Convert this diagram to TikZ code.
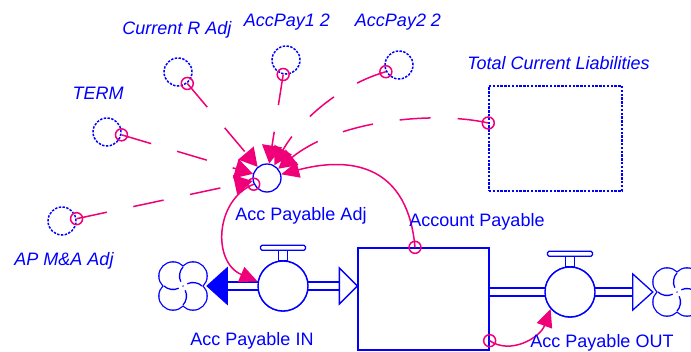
\documentclass[tikz,border=0pt]{standalone}
\usepackage{fontspec}
\setmainfont{Liberation Sans}
\usetikzlibrary{arrows.meta,calc}
\definecolor{vblue}{RGB}{0,0,255}
\definecolor{vpink}{RGB}{240,0,120}

\begin{document}
\begin{tikzpicture}[x=1pt,y=-1pt,
  lbl/.style={text=vblue, font=\fontsize{18}{20}\selectfont, inner sep=0pt, anchor=base},
  glbl/.style={lbl, font=\fontsize{18}{20}\selectfont\itshape},
  auxc/.style={circle, draw=vblue, line width=1.3pt, minimum size=28pt, inner sep=0pt},
  ghost/.style={auxc, line width=1.5pt, dash pattern=on 2.4pt off 1.4pt},
  valve/.style={circle, draw=vblue, fill=white, line width=1.4pt, minimum size=50pt, inner sep=0pt},
  pipe/.style={draw=vblue, line width=1.3pt, double=white, double distance=6.7pt},
  link/.style={draw=vpink, line width=1.5pt, -{Triangle[length=18pt,width=16pt]}},
  glink/.style={draw=vpink, line width=1.5pt, -{Triangle[length=18pt,width=20pt]}, dash pattern=on 31pt off 27pt},
  tailc/.style={circle, draw=vpink, line width=1.5pt, minimum size=12pt, inner sep=0pt},
  outline/.style={draw=vblue, line width=1.3pt},
  % cloud: outer outline of four lobes plus four inner swirl strokes
  vcloud/.pic={
    \begin{scope}[x=1pt,y=1pt]
      \foreach \dx/\dy in {-10/10, 10/10, 10/-10, -10/-10}
        \draw[vblue, line width=2.6pt] (\dx,\dy) circle[radius=13.5];
      \foreach \dx/\dy in {-10/10, 10/10, 10/-10, -10/-10}
        \fill[white] (\dx,\dy) circle[radius=13.5];
      \draw[outline] (10,10) ++(137.8:13.5) arc[start angle=137.8, end angle=205, radius=13.5];
      \draw[outline] (10,-10) ++(47.8:13.5) arc[start angle=47.8, end angle=115, radius=13.5];
      \draw[outline] (-10,-10) ++(-42.2:13.5) arc[start angle=-42.2, end angle=25, radius=13.5];
      \draw[outline] (-10,10) ++(-132.2:13.5) arc[start angle=-132.2, end angle=-65, radius=13.5];
    \end{scope}
  }
]
\useasboundingbox (0,0) rectangle (691,351);

% stock and flows
\node[outline, fill=white, rectangle, minimum width=131pt, minimum height=102pt, inner sep=0pt] (stock) at (423.5,299) {};
\node[minimum size=48pt, inner sep=0pt] (cloudin) at (183,286) {};
\node[minimum size=48pt, inner sep=0pt] (cloudout) at (677,292) {};
\node[valve] (vin) at (283,286) {};
\node[valve] (vout) at (570,292) {};

\draw[pipe] ($(cloudin.east)+(20,0)$) -- ($(stock.west|-vin)+(-18,0)$);
\draw[pipe] (stock.east|-vout) -- ($(cloudout.west)+(-20,0)$);

\node[valve] at (vin) {};
\node[valve] at (vout) {};
\foreach \v in {vin,vout}{
  \draw[outline, fill=white] ($(\v.north)+(-4.5,0.5)$) rectangle ($(\v.north)+(4.5,-10)$);
  \draw[outline, fill=white, rounded corners=1.5pt] ($(\v.north)+(-22.5,-10)$) rectangle ($(\v.north)+(22.5,-15)$);
}

% flow arrowheads
\draw[outline, fill=vblue, line join=miter] (cloudin.east) -- ++(20,-18) -- ++(0,36) -- cycle;
\draw[outline, fill=white, line join=miter] (stock.west|-vin) -- ++(-18,-18) -- ++(0,36) -- cycle;
\draw[outline, fill=white, line join=miter] (cloudout.west) -- ++(-20,-18) -- ++(0,36) -- cycle;

\pic at (cloudin) {vcloud};
\pic at (cloudout) {vcloud};

% auxiliaries and shadow variables
\node[auxc] (adj) at (267,178) {};
\node[ghost] (term) at (107,132) {};
\node[ghost] (crad) at (178,72) {};
\node[ghost] (ap1) at (286,60) {};
\node[ghost] (ap2) at (399,65) {};
\node[ghost] (apma) at (62,221) {};
\node[ghost, rectangle, minimum width=133pt, minimum height=105pt] (tcl) at (555.5,138.5) {};

\coordinate (stocktop) at ($(stock.north)+(-8.5,0)$);
\coordinate (stockbr) at ($(stock.south east)+(0,-10)$);

% links
\draw[glink] (term.-11) -- (adj);
\draw[glink] (crad.-51) -- (adj);
\draw[glink] (ap1.-101) -- (adj);
\draw[glink] (apma.9) -- (adj);
\draw[glink] (ap2.-153) .. controls (340,85) and (300,120) .. (adj);
\draw[glink] (tcl.167) .. controls (430,110) and (335,122) .. (adj);
\draw[link] (stocktop) .. controls (408,168) and (355,155) .. (adj);
\draw[link] (adj.205) .. controls (215,200) and (212,262) .. (vin.170);
\draw[link] (stockbr) .. controls (510,355) and (540,338) .. (vout.221);

% link tails
\node[tailc] (t1) at (term.-11) {};
\node[tailc] (t2) at (crad.-51) {};
\node[tailc] (t3) at (ap1.-101) {};
\node[tailc] (t4) at (ap2.-153) {};
\node[tailc] (t5) at (apma.9) {};
\node[tailc] (t6) at (tcl.167) {};
\node[tailc] (t7) at (stocktop) {};
\node[tailc] (t8) at (adj.205) {};
\node[tailc] (t9) at (stockbr) {};

% labels
\node[lbl] (ladj) at (301,220.7) {Acc Payable Adj};
\node[lbl] (lstock) at (477,226) {Account Payable};
\node[lbl] (lin) at (252,345) {Acc Payable IN};
\node[lbl] (lout) at (602,347) {Acc Payable OUT};
\node[glbl] (lcrad) at (177,34) {Current R Adj};
\node[glbl] (lap1) at (287,26.7) {AccPay1 2};
\node[glbl] (lap2) at (398,26.7) {AccPay2 2};
\node[glbl] (lterm) at (98,99) {TERM};
\node[glbl] (ltcl) at (558.5,69) {Total Current Liabilities};
\node[glbl] (lapma) at (64,265.7) {AP M\&A Adj};
\end{tikzpicture}
\end{document}
